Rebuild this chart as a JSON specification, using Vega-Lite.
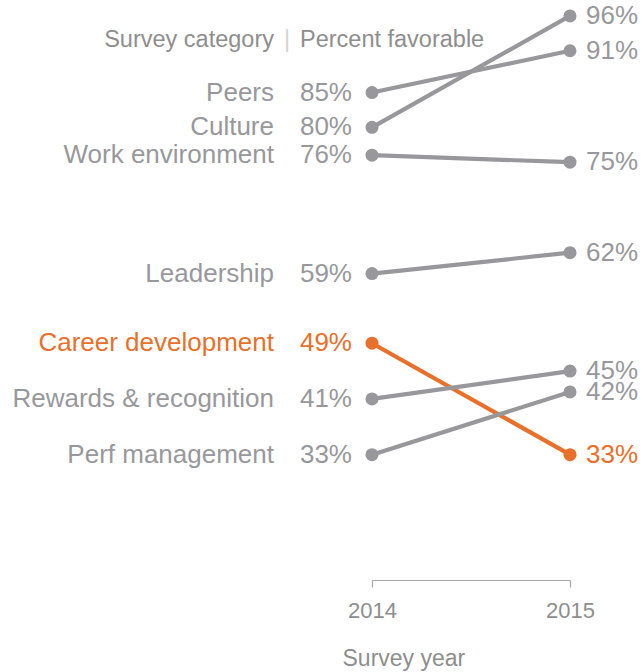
{
  "$schema": "https://vega.github.io/schema/vega-lite/v6.json",
  "width": 198,
  "height": 578,
  "autosize": {"type": "none"},
  "padding": {"left": 372, "right": 73, "top": 2, "bottom": 92},
  "config": {
    "view": {"stroke": null},
    "font": "Liberation Sans",
    "text": {"font": "Liberation Sans"}
  },
  "datasets": {
    "main": [
      {"category": "Peers", "year": 2014, "value": 85, "label": "85%", "group": "other"},
      {"category": "Peers", "year": 2015, "value": 91, "label": "91%", "group": "other"},
      {"category": "Culture", "year": 2014, "value": 80, "label": "80%", "group": "other"},
      {"category": "Culture", "year": 2015, "value": 96, "label": "96%", "group": "other"},
      {"category": "Work environment", "year": 2014, "value": 76, "label": "76%", "group": "other"},
      {"category": "Work environment", "year": 2015, "value": 75, "label": "75%", "group": "other"},
      {"category": "Leadership", "year": 2014, "value": 59, "label": "59%", "group": "other"},
      {"category": "Leadership", "year": 2015, "value": 62, "label": "62%", "group": "other"},
      {"category": "Career development", "year": 2014, "value": 49, "label": "49%", "group": "highlight"},
      {"category": "Career development", "year": 2015, "value": 33, "label": "33%", "group": "highlight"},
      {"category": "Rewards & recognition", "year": 2014, "value": 41, "label": "41%", "group": "other"},
      {"category": "Rewards & recognition", "year": 2015, "value": 45, "label": "45%", "group": "other"},
      {"category": "Perf management", "year": 2014, "value": 33, "label": "33%", "group": "other"},
      {"category": "Perf management", "year": 2015, "value": 42, "label": "42%", "group": "other"}
    ],
    "header": [
      {"part": "left", "label": "Survey category", "year": 2014, "value": 92.5},
      {"part": "sep", "label": "|", "year": 2014, "value": 92.5},
      {"part": "right", "label": "Percent favorable", "year": 2014, "value": 92.5}
    ]
  },
  "data": {"name": "main"},
  "layer": [
    {
      "mark": {"type": "line", "strokeWidth": 4.2},
      "encoding": {
        "x": {
          "field": "year",
          "type": "quantitative",
          "scale": {"domain": [2014, 2015], "nice": false, "zero": false},
          "axis": {
            "values": [2014, 2015],
            "format": "d",
            "grid": false,
            "labelFlush": false,
            "domainColor": "#a8a8a8",
            "tickColor": "#a8a8a8",
            "domainWidth": 1.2,
            "tickWidth": 1.2,
            "tickSize": 7,
            "labelPadding": 13,
            "labelDx": -5,
            "labelFontSize": 22,
            "labelColor": "#8e8e8e",
            "labelFont": "Liberation Sans",
            "title": "Survey year",
            "titleFont": "Liberation Sans",
            "titleFontSize": 23,
            "titleFontWeight": "normal",
            "titleColor": "#8e8e8e",
            "titleAlign": "left",
            "titleAnchor": "start",
            "titleX": -30,
            "titleY": 85,
            "titleBaseline": "alphabetic"
          }
        },
        "y": {
          "field": "value",
          "type": "quantitative",
          "scale": {"domain": [15, 98], "nice": false, "zero": false},
          "axis": null
        },
        "color": {
          "field": "group",
          "type": "nominal",
          "scale": {"domain": ["other", "highlight"], "range": ["#98989c", "#e8702a"]},
          "legend": null
        },
        "detail": {"field": "category"}
      }
    },
    {
      "mark": {"type": "point", "filled": true, "opacity": 1, "size": 170},
      "encoding": {
        "x": {"field": "year", "type": "quantitative"},
        "y": {"field": "value", "type": "quantitative"},
        "color": {"field": "group", "type": "nominal", "legend": null}
      }
    },
    {
      "transform": [{"filter": "datum.year == 2014"}],
      "mark": {"type": "text", "align": "right", "baseline": "middle", "dx": -98, "fontSize": 26},
      "encoding": {
        "x": {"field": "year", "type": "quantitative"},
        "y": {"field": "value", "type": "quantitative"},
        "text": {"field": "category"},
        "color": {"field": "group", "type": "nominal", "legend": null}
      }
    },
    {
      "transform": [{"filter": "datum.year == 2014"}],
      "mark": {"type": "text", "align": "right", "baseline": "middle", "dx": -20, "fontSize": 26},
      "encoding": {
        "x": {"field": "year", "type": "quantitative"},
        "y": {"field": "value", "type": "quantitative"},
        "text": {"field": "label"},
        "color": {"field": "group", "type": "nominal", "legend": null}
      }
    },
    {
      "transform": [{"filter": "datum.year == 2015"}],
      "mark": {"type": "text", "align": "left", "baseline": "middle", "dx": 16, "fontSize": 26},
      "encoding": {
        "x": {"field": "year", "type": "quantitative"},
        "y": {"field": "value", "type": "quantitative"},
        "text": {"field": "label"},
        "color": {"field": "group", "type": "nominal", "legend": null}
      }
    },
    {
      "data": {"name": "header"},
      "transform": [{"filter": "datum.part == 'left'"}],
      "mark": {"type": "text", "align": "right", "baseline": "middle", "dx": -98, "fontSize": 23.5, "color": "#8e8e8e"},
      "encoding": {
        "x": {"field": "year", "type": "quantitative"},
        "y": {"field": "value", "type": "quantitative"},
        "text": {"field": "label"}
      }
    },
    {
      "data": {"name": "header"},
      "transform": [{"filter": "datum.part == 'sep'"}],
      "mark": {"type": "text", "align": "center", "baseline": "middle", "dx": -85, "fontSize": 23.5, "color": "#d4d4d4"},
      "encoding": {
        "x": {"field": "year", "type": "quantitative"},
        "y": {"field": "value", "type": "quantitative"},
        "text": {"field": "label"}
      }
    },
    {
      "data": {"name": "header"},
      "transform": [{"filter": "datum.part == 'right'"}],
      "mark": {"type": "text", "align": "left", "baseline": "middle", "dx": -72, "fontSize": 23.5, "color": "#8e8e8e"},
      "encoding": {
        "x": {"field": "year", "type": "quantitative"},
        "y": {"field": "value", "type": "quantitative"},
        "text": {"field": "label"}
      }
    }
  ]
}
